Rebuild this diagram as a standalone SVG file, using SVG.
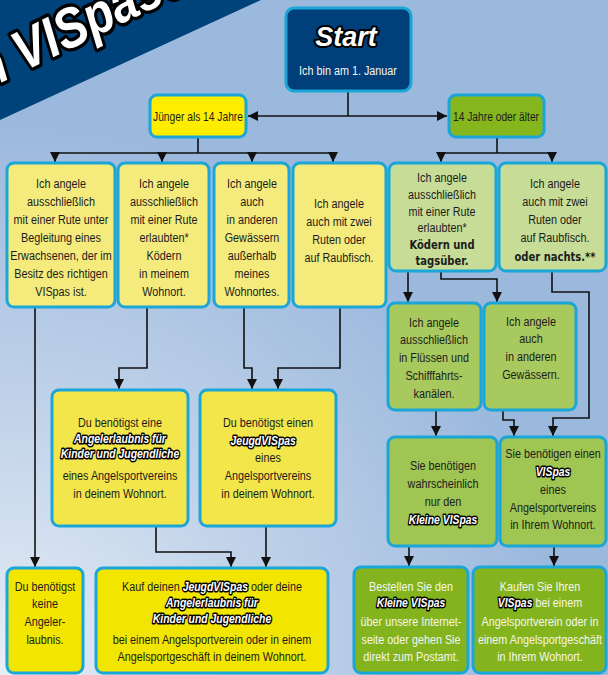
<svg xmlns="http://www.w3.org/2000/svg" width="608" height="675" viewBox="0 0 608 675">
<defs>
<radialGradient id="bgg" cx="0" cy="675" r="560" gradientUnits="userSpaceOnUse">
<stop offset="0" stop-color="#e8eef7"/>
<stop offset="0.45" stop-color="#c3d4ea"/>
<stop offset="1" stop-color="#9bb8dd"/>
</radialGradient>
<marker id="ah" markerUnits="userSpaceOnUse" markerWidth="10" markerHeight="11" refX="10" refY="5.5" orient="auto-start-reverse">
<path d="M0,0.5 L10,5.5 L0,10.5 z" fill="#111"/>
</marker>
<style>
.n{stroke:#1ba6d8;stroke-width:3}
.y0{fill:#ffed00}.y1{fill:#f5eb7d}.y2{fill:#f2e64a}.y3{fill:#f2e500}
.g0{fill:#85b71c}.g1{fill:#c6dc97}.g2{fill:#a8c95e}.g3{fill:#9fc552}.g4{fill:#83b41e}
.t{font-family:"Liberation Sans",Arial,sans-serif;font-size:13.5px;fill:#1c1c1c;text-anchor:middle}
.w{fill:#f6f6ec}
.b{font-family:"DejaVu Sans",Verdana,sans-serif;font-weight:bold;font-size:12.5px}
.k{font-family:"Liberation Sans",Arial,sans-serif;font-weight:bold;font-style:italic;font-size:13px;fill:#fff;stroke:#000;stroke-width:3;paint-order:stroke;stroke-linejoin:round}
.c{fill:none;stroke:#111;stroke-width:1.6}
</style>
</defs>
<rect x="0" y="0" width="608" height="675" fill="url(#bgg)"/>
<polygon points="0,0 261,0 0,120" fill="#00427a"/>
<text transform="translate(-14,90) rotate(-26) scale(0.85,1)" x="0" y="0" font-family="Liberation Sans,Arial,sans-serif" font-weight="bold" font-style="italic" font-size="56" fill="#fff" stroke="#000" stroke-width="7" paint-order="stroke" stroke-linejoin="round">n VISpase</text>

<g id="connectors">
<path class="c" d="M348,91 V116"/>
<path class="c" d="M248,116 H447" marker-start="url(#ah)" marker-end="url(#ah)"/>
<path class="c" d="M198,137 V153 M55,153 H333"/>
<path class="c" d="M55,153 V162" marker-end="url(#ah)"/>
<path class="c" d="M162,153 V162" marker-end="url(#ah)"/>
<path class="c" d="M252,153 V162" marker-end="url(#ah)"/>
<path class="c" d="M333,153 V162" marker-end="url(#ah)"/>
<path class="c" d="M497,137 V153 M441,153 H552"/>
<path class="c" d="M441,153 V162" marker-end="url(#ah)"/>
<path class="c" d="M552,153 V162" marker-end="url(#ah)"/>
<path class="c" d="M35,307 V567" marker-end="url(#ah)"/>
<path class="c" d="M147,307 V368 H119 V389" marker-end="url(#ah)"/>
<path class="c" d="M244,307 V368 H252 V389" marker-end="url(#ah)"/>
<path class="c" d="M340,307 V368 H278 V389" marker-end="url(#ah)"/>
<path class="c" d="M408,271 V302" marker-end="url(#ah)"/>
<path class="c" d="M441,271 V279 H497 V302" marker-end="url(#ah)"/>
<path class="c" d="M552,271 V292 H589 V418 H553 V436" marker-end="url(#ah)"/>
<path class="c" d="M436,410 V436" marker-end="url(#ah)"/>
<path class="c" d="M503,410 V420 H514 V436" marker-end="url(#ah)"/>
<path class="c" d="M156,526 V552 H231 V567" marker-end="url(#ah)"/>
<path class="c" d="M266,526 V567" marker-end="url(#ah)"/>
<path class="c" d="M409,546 V566" marker-end="url(#ah)"/>
<path class="c" d="M554,546 V566" marker-end="url(#ah)"/>
</g>

<g id="start">
<rect class="n" x="286" y="8" width="125" height="83" rx="8" fill="#003f7a"/>
<text x="346" y="46" text-anchor="middle" font-family="Liberation Sans,Arial,sans-serif" font-weight="bold" font-style="italic" font-size="27" fill="#fff" stroke="#000" stroke-width="4" paint-order="stroke" stroke-linejoin="round">Start</text>
<g transform="translate(348,0) scale(0.8,1)"><text class="t w" x="0" y="75">Ich bin am 1. Januar</text></g>
</g>

<g id="juenger">
<rect class="n y0" x="150" y="95" width="96" height="42" rx="7"/>
<g transform="translate(198,0) scale(0.76,1)"><text class="t" x="0" y="121">Jünger als 14 Jahre</text></g>
</g>

<g id="aelter">
<rect class="n g0" x="449" y="95" width="95" height="42" rx="7"/>
<g transform="translate(496,0) scale(0.76,1)"><text class="t" x="0" y="121">14 Jahre oder älter</text></g>
</g>

<g id="a1">
<rect class="n y1" x="7" y="163" width="108" height="144" rx="7"/>
<g transform="translate(61,0) scale(0.8,1)">
<text class="t" x="0" y="188">Ich angele</text>
<text class="t" x="0" y="206">ausschließlich</text>
<text class="t" x="0" y="224">mit einer Rute unter</text>
<text class="t" x="0" y="242">Begleitung eines</text>
<text class="t" x="0" y="260">Erwachsenen, der im</text>
<text class="t" x="0" y="278">Besitz des richtigen</text>
<text class="t" x="0" y="296">VISpas ist.</text>
</g>
</g>

<g id="a2">
<rect class="n y1" x="118" y="163" width="91" height="144" rx="7"/>
<g transform="translate(164,0) scale(0.8,1)">
<text class="t" x="0" y="188">Ich angele</text>
<text class="t" x="0" y="206">ausschließlich</text>
<text class="t" x="0" y="224">mit einer Rute</text>
<text class="t" x="0" y="242">erlaubten*</text>
<text class="t" x="0" y="260">Ködern</text>
<text class="t" x="0" y="278">in meinem</text>
<text class="t" x="0" y="296">Wohnort.</text>
</g>
</g>

<g id="a3">
<rect class="n y1" x="214" y="163" width="75" height="144" rx="7"/>
<g transform="translate(252,0) scale(0.8,1)">
<text class="t" x="0" y="188">Ich angele</text>
<text class="t" x="0" y="206">auch</text>
<text class="t" x="0" y="224">in anderen</text>
<text class="t" x="0" y="242">Gewässern</text>
<text class="t" x="0" y="260">außerhalb</text>
<text class="t" x="0" y="278">meines</text>
<text class="t" x="0" y="296">Wohnortes.</text>
</g>
</g>

<g id="a4">
<rect class="n y1" x="293" y="163" width="93" height="144" rx="7"/>
<g transform="translate(339,0) scale(0.8,1)">
<text class="t" x="0" y="208">Ich angele</text>
<text class="t" x="0" y="226">auch mit zwei</text>
<text class="t" x="0" y="244">Ruten oder</text>
<text class="t" x="0" y="262">auf Raubfisch.</text>
</g>
</g>

<g id="b1">
<rect class="n g1" x="389" y="163" width="107" height="108" rx="7"/>
<g transform="translate(442,0) scale(0.8,1)">
<text class="t" x="0" y="182">Ich angele</text>
<text class="t" x="0" y="199">ausschließlich</text>
<text class="t" x="0" y="216">mit einer Rute</text>
<text class="t" x="0" y="232">erlaubten*</text>
<text class="t b" x="0" y="249">Ködern und</text>
<text class="t b" x="0" y="265">tagsüber.</text>
</g>
</g>

<g id="b2">
<rect class="n g1" x="499" y="163" width="107" height="108" rx="7"/>
<g transform="translate(555,0) scale(0.8,1)">
<text class="t" x="0" y="188">Ich angele</text>
<text class="t" x="0" y="206">auch mit zwei</text>
<text class="t" x="0" y="224">Ruten oder</text>
<text class="t" x="0" y="242">auf Raubfisch.</text>
<text class="t b" x="0" y="261">oder nachts.**</text>
</g>
</g>

<g id="c1">
<rect class="n g2" x="388" y="303" width="93" height="107" rx="7"/>
<g transform="translate(434,0) scale(0.8,1)">
<text class="t" x="0" y="327">Ich angele</text>
<text class="t" x="0" y="344">ausschließlich</text>
<text class="t" x="0" y="362">in Flüssen und</text>
<text class="t" x="0" y="380">Schifffahrts-</text>
<text class="t" x="0" y="398">kanälen.</text>
</g>
</g>

<g id="c2">
<rect class="n g2" x="484" y="303" width="92" height="107" rx="7"/>
<g transform="translate(531,0) scale(0.8,1)">
<text class="t" x="0" y="326">Ich angele</text>
<text class="t" x="0" y="343">auch</text>
<text class="t" x="0" y="361">in anderen</text>
<text class="t" x="0" y="379">Gewässern.</text>
</g>
</g>

<g id="d1">
<rect class="n g3" x="388" y="437" width="109" height="109" rx="7"/>
<g transform="translate(443,0) scale(0.8,1)">
<text class="t" x="0" y="470">Sie benötigen</text>
<text class="t" x="0" y="488">wahrscheinlich</text>
<text class="t" x="0" y="506">nur den</text>
<text class="t k" x="0" y="524">Kleine VISpas</text>
</g>
</g>

<g id="d2">
<rect class="n g3" x="500" y="437" width="106" height="109" rx="7"/>
<g transform="translate(553,0) scale(0.8,1)">
<text class="t" x="0" y="458">Sie benötigen einen</text>
<text class="t k" x="0" y="476">VISpas</text>
<text class="t" x="0" y="494">eines</text>
<text class="t" x="0" y="512">Angelsportvereins</text>
<text class="t" x="0" y="529">in Ihrem Wohnort.</text>
</g>
</g>

<g id="e1">
<rect class="n y2" x="52" y="390" width="136" height="136" rx="7"/>
<g transform="translate(120,0) scale(0.8,1)">
<text class="t" x="0" y="427">Du benötigst eine</text>
<text class="t k" x="0" y="443">Angelerlaubnis für</text>
<text class="t k" x="0" y="458">Kinder und Jugendliche</text>
<text class="t" x="0" y="480">eines Angelsportvereins</text>
<text class="t" x="0" y="498">in deinem Wohnort.</text>
</g>
</g>

<g id="e2">
<rect class="n y2" x="200" y="390" width="136" height="136" rx="7"/>
<g transform="translate(268,0) scale(0.8,1)">
<text class="t" x="0" y="427">Du benötigst einen</text>
<text class="t k" x="-6" y="445">JeugdVISpas</text>
<text class="t" x="0" y="462">eines</text>
<text class="t" x="0" y="480">Angelsportvereins</text>
<text class="t" x="0" y="498">in deinem Wohnort.</text>
</g>
</g>

<g id="f1">
<rect class="n y3" x="7" y="568" width="76" height="105" rx="7"/>
<g transform="translate(45,0) scale(0.8,1)">
<text class="t" x="0" y="591">Du benötigst</text>
<text class="t" x="0" y="608">keine</text>
<text class="t" x="0" y="626">Angeler-</text>
<text class="t" x="0" y="644">laubnis.</text>
</g>
</g>

<g id="f2">
<rect class="n y3" x="96" y="568" width="232" height="105" rx="7"/>
<g transform="translate(212,0) scale(0.8,1)">
<text class="t" x="0" y="591">Kauf deinen <tspan class="k">JeugdVISpas</tspan> oder deine</text>
<text class="t k" x="0" y="607">Angelerlaubnis für</text>
<text class="t k" x="0" y="623">Kinder und Jugendliche</text>
<text class="t" x="0" y="644">bei einem Angelsportverein oder in einem</text>
<text class="t" x="0" y="661">Angelsportgeschäft in deinem Wohnort.</text>
</g>
</g>

<g id="f3">
<rect class="n g4" x="354" y="567" width="114" height="106" rx="7"/>
<g transform="translate(411,0) scale(0.8,1)">
<text class="t w" x="0" y="591">Bestellen Sie den</text>
<text class="t k" x="0" y="607">Kleine VISpas</text>
<text class="t w" x="0" y="626">über unsere Internet-</text>
<text class="t w" x="0" y="644">seite oder gehen Sie</text>
<text class="t w" x="0" y="661">direkt zum Postamt.</text>
</g>
</g>

<g id="f4">
<rect class="n g4" x="473" y="567" width="133" height="106" rx="7"/>
<g transform="translate(540,0) scale(0.8,1)">
<text class="t w" x="0" y="591">Kaufen Sie Ihren</text>
<text class="t w" x="0" y="607"><tspan class="k">VISpas</tspan> bei einem</text>
<text class="t w" x="0" y="626">Angelsportverein  oder in</text>
<text class="t w" x="0" y="644">einem Angelsportgeschäft</text>
<text class="t w" x="0" y="661">in Ihrem Wohnort.</text>
</g>
</g>
</svg>
